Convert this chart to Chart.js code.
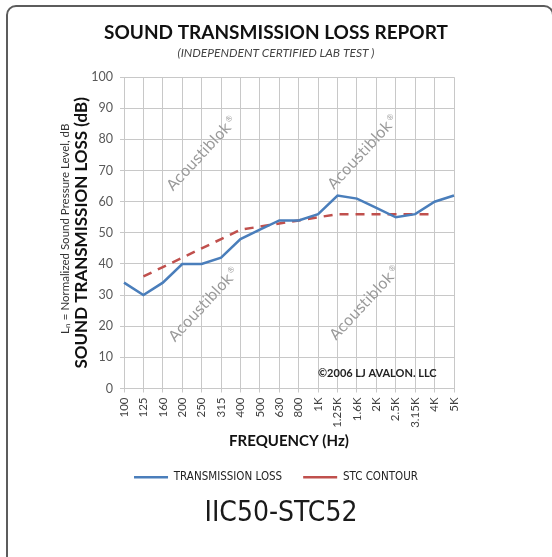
<!DOCTYPE html>
<html>
<head>
<meta charset="utf-8">
<script src="https://cdn.jsdelivr.net/npm/chart.js@4"></script>
<style>
  html, body { margin: 0; padding: 0; background: #fff; }
  body { width: 552px; height: 557px; position: relative; overflow: hidden; }
  #frame {
    position: absolute; left: 6px; top: 5px; width: 544px; height: 560px;
    border: 2px solid #5c5c5c; border-radius: 10px;
  }
  #wrap { position: absolute; left: 0; top: 0; width: 552px; height: 557px; }
</style>
</head>
<body>
<div id="frame"></div>
<div id="wrap"><canvas id="chart" width="552" height="557"></canvas></div>
<script>
// values
const categories = ['100', '125', '160', '200', '250', '315', '400', '500', '630', '800',
    '1K', '1.25K', '1.6K', '2K', '2.5K', '3.15K', '4K', '5K'];
const transmissionLoss = [34, 30, 34, 40, 40, 42, 48, 51, 54, 54, 56, 62, 61, 58, 55, 56, 60, 62];
const stcContour = [null, 36, 39, 42, 45, 48, 51, 52, 53, 54, 55, 56, 56, 56, 56, 56, 56, null];
const yMin = 0;
const yMax = 100;
const yStep = 10;

const gridColor = '#c8c8c8';

// watermark spots, in (category index, dB) units
const watermarks = [[4, 75], [12.3, 75.5], [4.1, 26.5], [12.4, 27]];

const extraText = {
    id: 'extraText',
    beforeDatasetsDraw(chart) {
        const ctx = chart.ctx;
        const x = chart.scales.x;
        const y = chart.scales.y;
        ctx.save();
        ctx.fillStyle = '#9a9a9a';
        watermarks.forEach(([i, v]) => {
            ctx.save();
            ctx.translate(x.getPixelForValue(i), y.getPixelForValue(v));
            ctx.rotate(-47 * Math.PI / 180);
            ctx.font = '15px "DejaVu Sans"';
            ctx.textBaseline = 'middle';
            const w = ctx.measureText('Acoustiblok').width;
            ctx.textAlign = 'left';
            ctx.fillText('Acoustiblok', -w / 2 - 3, 0);
            ctx.font = '8px "DejaVu Sans"';
            ctx.fillText('®', w / 2 - 2, -4);
            ctx.restore();
        });
        ctx.restore();
    },
    afterDraw(chart) {
        const ctx = chart.ctx;
        const area = chart.chartArea;
        const x = chart.scales.x;
        const y = chart.scales.y;
        const midY = (area.top + area.bottom) / 2;
        ctx.save();
        ctx.textAlign = 'center';
        ctx.textBaseline = 'middle';

        // y axis titles
        ctx.save();
        ctx.translate(82, midY);
        ctx.rotate(-Math.PI / 2);
        ctx.fillStyle = '#111';
        ctx.font = 'bold 17px Lato';
        ctx.fillText('SOUND TRANSMISSION LOSS (dB)', 0, 0);
        ctx.restore();

        ctx.save();
        ctx.translate(65, midY - 4);
        ctx.rotate(-Math.PI / 2);
        ctx.fillStyle = '#333';
        ctx.font = '11.5px Lato';
        ctx.fillText('L\u2099 = Normalized Sound Pressure Level, dB', 0, 0);
        ctx.restore();

        // copyright
        ctx.fillStyle = '#222';
        ctx.font = 'bold 11px Lato';
        ctx.fillText('\u00a92006 LJ AVALON. LLC', x.getPixelForValue(13.05), y.getPixelForValue(4.8));

        // rating
        ctx.fillStyle = '#1a1a1a';
        ctx.font = '28px "DejaVu Sans Condensed"';
        ctx.fillText('IIC50-STC52', 281, 514);
        ctx.restore();
    }
};

new Chart(document.getElementById('chart'), {
    type: 'line',
    data: {
        labels: categories,
        datasets: [
            {
                label: 'TRANSMISSION LOSS',
                data: transmissionLoss,
                borderColor: '#4a7ebb',
                backgroundColor: '#4a7ebb',
                borderWidth: 2.5,
                pointRadius: 0,
                tension: 0,
            },
            {
                label: 'STC CONTOUR',
                data: stcContour,
                borderColor: '#c0504d',
                backgroundColor: '#c0504d',
                borderWidth: 2.5,
                borderDash: [9, 7],
                pointRadius: 0,
                tension: 0,
            },
        ],
    },
    options: {
        responsive: false,
        animation: false,
        layout: { padding: { left: 0, right: 0, top: 0, bottom: 64 } },
        plugins: {
            title: {
                display: true,
                text: 'SOUND TRANSMISSION LOSS REPORT',
                color: '#111',
                font: { family: 'Lato', size: 19, weight: 'bold' },
                padding: { top: 21, bottom: 0 },
            },
            subtitle: {
                display: true,
                text: '(INDEPENDENT CERTIFIED LAB TEST )',
                color: '#444',
                font: { family: 'Lato', size: 12, style: 'italic' },
                padding: { top: 2, bottom: 17 },
            },
            legend: {
                position: 'bottom',
                labels: {
                    usePointStyle: true,
                    pointStyle: 'line',
                    pointStyleWidth: 34,
                    boxHeight: 10,
                    padding: 21,
                    color: '#222',
                    font: { family: 'DejaVu Sans Condensed', size: 11.5 },
                },
            },
            tooltip: { enabled: false },
        },
        scales: {
            x: {
                grid: { color: gridColor, tickLength: 4 },
                border: { color: gridColor },
                ticks: {
                    autoSkip: false,
                    maxRotation: 90,
                    minRotation: 90,
                    padding: 5,
                    color: '#404040',
                    font: { family: 'Lato', size: 11.5 },
                },
                title: {
                    display: true,
                    text: 'FREQUENCY (Hz)',
                    color: '#111',
                    font: { family: 'Lato', size: 15, weight: 'bold' },
                    padding: { top: 4, bottom: 0 },
                },
                afterFit(scale) { scale.height = 62; },
            },
            y: {
                min: yMin,
                max: yMax,
                grid: { color: gridColor, tickLength: 4 },
                border: { color: gridColor },
                ticks: {
                    stepSize: yStep,
                    padding: 7,
                    color: '#595959',
                    font: { family: 'Lato', size: 12.5 },
                },
                afterFit(scale) { scale.width = 124; },
            },
            yR: {
                position: 'right',
                min: yMin,
                max: yMax,
                grid: { display: false },
                border: { display: false },
                ticks: { display: false },
                afterFit(scale) { scale.width = 98; },
            },
        },
    },
    plugins: [extraText],
});
</script>
</body>
</html>
